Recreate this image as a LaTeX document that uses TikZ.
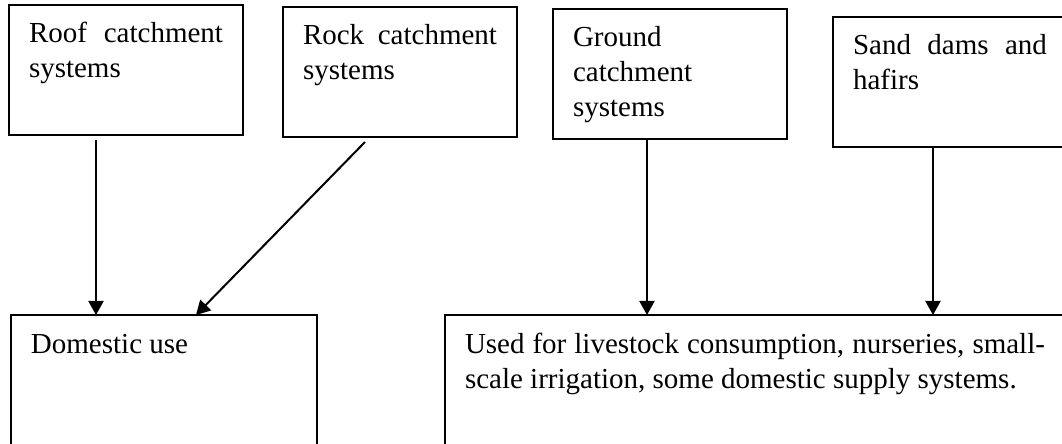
\documentclass[tikz,border=0pt]{standalone}
\usepackage{fontspec}
\setmainfont{Liberation Serif}
\usetikzlibrary{positioning,arrows.meta}
\hyphenpenalty=10000

\begin{document}
\begin{tikzpicture}[->,line width=1pt,x=0.5pt,y=-0.5pt,
        >={Triangle[length=7pt,width=7.5pt]},
        main node/.style={rectangle, draw, line width=0.65pt, inner xsep=10pt,
        inner ysep=0pt, outer sep=0pt, text width=97pt, text height=19pt,
        text depth=46pt, align=justify, font=\fontsize{14.5}{17.5}\selectfont},
        use node/.style={main node, text depth=60pt}
        ]
        \useasboundingbox (0,0) rectangle (1062,444);

        \node [main node, anchor=north west] (roof) at (9,5) {Roof catchment systems};
        \node [main node] (rock) [below right=1pt and 20pt of roof.north east] {Rock catchment systems};
        \node [main node] (ground) [below right=1pt and 18pt of rock.north east] {Ground catchment systems};
        \node [main node] (sand) [below right=4pt and 23pt of ground.north east] {Sand dams and hafirs};
        \node [use node, text width=133pt] (domestic) [below right=90pt and 1pt of roof.south west] {Domestic use};
        \node [use node, text width=290pt] (used) [below right=0pt and 64pt of domestic.north east] {Used for livestock consumption, nurseries, small-scale irrigation, some domestic supply systems.};

        \path
        ([xshift=-15pt,yshift=-2.5pt]roof.south) edge ([xshift=-34pt]domestic.north)
        ([xshift=-17.5pt,yshift=-2.5pt]rock.south) edge ([xshift=16pt]domestic.north)
        ([xshift=-11.5pt,yshift=-0.5pt]ground.south) edge ([xshift=-54pt]used.north)
        ([xshift=-8.5pt]sand.south) edge ([xshift=89pt]used.north)
        ;
\end{tikzpicture}
\end{document}
